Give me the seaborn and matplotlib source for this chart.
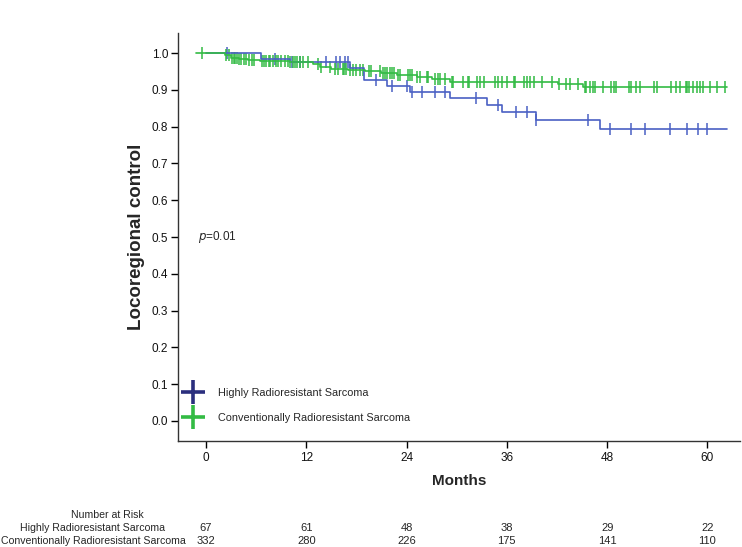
import numpy as np
import pandas as pd
import matplotlib
matplotlib.use("Agg")
import matplotlib.pyplot as plt
from matplotlib.lines import Line2D
import seaborn as sns

# step curves (month, survival level)
hi_times = [0, 6.6, 10.0, 17.2, 18.9, 21.6, 24.4, 29.2, 33.6, 35.4, 39.5, 47.1, 62.3]
hi_surv = [1.0, 0.985, 0.975, 0.959, 0.928, 0.912, 0.895, 0.877, 0.859, 0.840, 0.818, 0.794, 0.794]
hi_censor = [2.5, 8.3, 10.3, 11.2, 14.4, 15.5, 16.0, 16.6, 17.0, 20.3, 22.2, 24.0, 24.7,
             25.9, 27.4, 28.6, 32.3, 35.0, 37.1, 38.4, 39.5, 45.7, 48.3, 50.8, 52.5,
             55.5, 57.6, 58.9, 59.9]

cv_times = [-1.2, 2.3, 3.0, 4.0, 5.0, 6.5, 10.0, 12.8, 13.6, 15.0, 17.0, 19.0, 21.0,
            22.8, 25.2, 27.0, 29.2, 42.1, 45.1, 62.3]
cv_surv = [1.0, 0.994, 0.988, 0.985, 0.982, 0.979, 0.976, 0.970, 0.963, 0.958, 0.954,
           0.951, 0.947, 0.942, 0.935, 0.931, 0.923, 0.917, 0.909, 0.909]
cv_censor = [-0.5, 2.4, 2.7, 3.1, 3.3, 3.5, 3.7, 4.0, 4.2, 4.5, 4.8, 5.1, 5.5, 5.7, 6.7,
             6.9, 7.2, 7.5, 7.7, 8.0, 8.4, 8.6, 9.0, 9.4, 9.8, 10.0, 10.4, 10.6, 10.9,
             11.2, 11.6, 12.2, 13.4, 13.8, 14.8, 15.4, 15.8, 16.4, 16.5, 16.7, 17.2,
             17.6, 18.0, 18.4, 18.8, 19.5, 19.8, 20.8, 21.2, 21.4, 21.6, 22.0, 22.2,
             22.5, 23.0, 23.2, 24.2, 24.4, 24.6, 25.2, 25.6, 26.4, 26.6, 27.4, 27.8,
             28.0, 28.6, 29.4, 29.5, 30.7, 31.3, 31.5, 32.4, 32.8, 33.3, 34.6, 35.0,
             35.4, 36.0, 36.8, 37.0, 38.0, 38.4, 38.8, 39.3, 40.2, 41.4, 42.3, 43.1,
             43.5, 44.5, 45.3, 45.5, 45.9, 46.3, 46.6, 47.5, 48.5, 48.8, 49.1, 50.6,
             50.9, 51.5, 51.9, 53.6, 54.0, 55.6, 56.3, 56.7, 57.4, 57.6, 57.8, 58.3,
             58.7, 59.1, 59.5, 60.3, 61.1, 62.1]

groups = ["Highly Radioresistant Sarcoma", "Conventionally Radioresistant Sarcoma"]
month_ticks = [0, 12, 24, 36, 48, 60]
risk_hi = [67, 61, 48, 38, 29, 22]
risk_cv = [332, 280, 226, 175, 141, 110]

line_colors = ["#4a60c4", "#33bb44"]
legend_colors = ["#2b2f7e", "#33bb44"]

sns.set_theme(style="white")
plt.rcParams["font.family"] = ["Liberation Sans", "DejaVu Sans"]

fig = plt.figure(figsize=(7.42, 5.47), dpi=100)
ax = fig.add_axes([178 / 742, 1 - 441 / 547, 562 / 742, 408 / 547])


def level_at(times, surv, t):
    idx = np.searchsorted(times, t, side="right") - 1
    return np.asarray(surv)[np.clip(idx, 0, None)]


curves = [(hi_times, hi_surv, hi_censor), (cv_times, cv_surv, cv_censor)]
for (times, surv, cens), color in zip(curves, line_colors):
    df = pd.DataFrame({"month": times, "surv": surv})
    sns.lineplot(data=df, x="month", y="surv", drawstyle="steps-post",
                 color=color, linewidth=1.2, ax=ax, legend=False)
    cdf = pd.DataFrame({"month": cens, "surv": level_at(times, surv, cens)})
    sns.scatterplot(data=cdf, x="month", y="surv", marker="|", s=70,
                    linewidth=1.1, color=color, ax=ax, legend=False)

ax.set_xlim(-3.35, 63.9)
ax.set_ylim(-0.055, 1.055)
ax.set_xticks(month_ticks)
ax.set_yticks(np.arange(0, 1.01, 0.1))
ax.set_yticklabels([f"{v:.1f}" for v in np.arange(0, 1.01, 0.1)])
ax.tick_params(axis="both", labelsize=8.5, length=5, width=1, color="black",
               labelcolor="#111111", pad=2, direction="out")
ax.tick_params(axis="x", pad=3)
ax.xaxis.set_ticks_position("bottom")
ax.yaxis.set_ticks_position("left")
sns.despine(ax=ax)
for s in ["left", "bottom"]:
    ax.spines[s].set_color("#333333")
    ax.spines[s].set_linewidth(1.0)

ax.set_xlabel("Months", fontsize=11, fontweight="bold", labelpad=7)
ax.set_ylabel("Locoregional control", fontsize=13.5, fontweight="bold", labelpad=5)

ax.text(-0.9, 0.5, r"$p$=0.01", fontsize=8.5, va="center", ha="left")

handles = [Line2D([], [], linestyle="none", marker="+", markersize=17,
                  markeredgewidth=2.6, color=c) for c in legend_colors]
ax.legend(handles, groups, loc="lower left", bbox_to_anchor=(0.0, 0.025),
          frameon=False, fontsize=7.8, handletextpad=1.6, labelspacing=1.45,
          handlelength=1.4, borderaxespad=0.3)

# number at risk table
fig.text(107 / 742, 1 - 515 / 547, "Number at Risk", fontsize=7.6,
         ha="center", va="center")
fig.text(93 / 742, 1 - 528 / 547, groups[0], fontsize=7.6, ha="center", va="center")
fig.text(93 / 742, 1 - 541 / 547, groups[1], fontsize=7.6, ha="center", va="center")
for m, a, b in zip(month_ticks, risk_hi, risk_cv):
    xf = fig.transFigure.inverted().transform(ax.transData.transform((m, 0)))[0]
    fig.text(xf, 1 - 528 / 547, str(a), fontsize=8, ha="center", va="center")
    fig.text(xf, 1 - 541 / 547, str(b), fontsize=8, ha="center", va="center")

fig.savefig("out.png", dpi=100)
